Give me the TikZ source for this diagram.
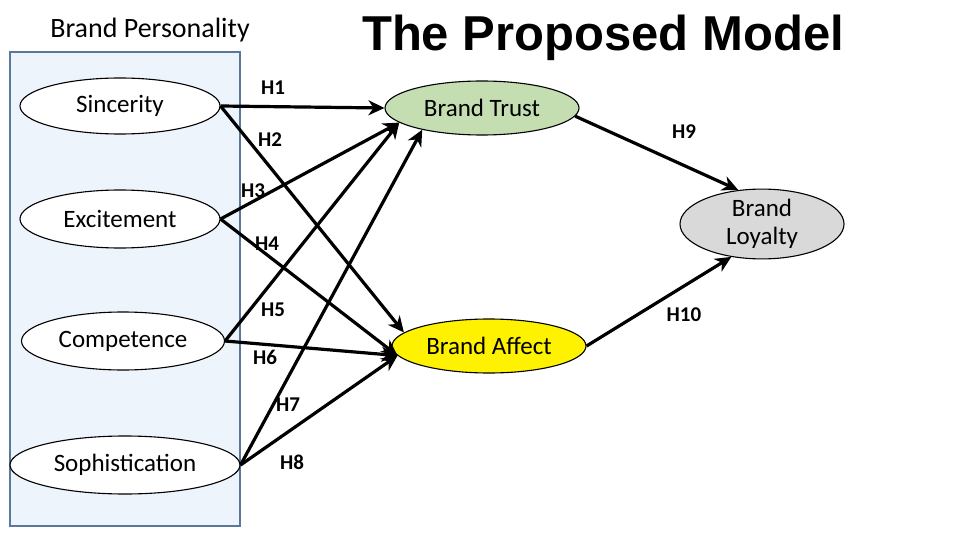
\documentclass[tikz,border=0pt]{standalone}
\usepackage{fontspec}
\setmainfont{Carlito}
\newfontfamily\titlefont{Liberation Sans}
\usetikzlibrary{positioning,arrows.meta,shapes.geometric}
\definecolor{boxfill}{RGB}{238,244,251}
\definecolor{boxline}{RGB}{90,120,155}
\definecolor{trustfill}{RGB}{196,222,178}
\definecolor{loyalfill}{RGB}{217,217,217}

\begin{document}
\begin{tikzpicture}[
    x=1pt, y=-1pt,
    trait/.style={draw, ellipse, fill=white, inner sep=0pt, line width=1.1pt, font=\fontsize{25}{27}\selectfont},
    construct/.style={draw, ellipse, inner sep=0pt, line width=1.1pt, minimum width=194pt, minimum height=54pt, font=\fontsize{25}{28}\selectfont, align=center},
    hlabel/.style={font=\bfseries\fontsize{21}{23}\selectfont},
    hpath/.style={-{Stealth[length=16pt, width=15pt, inset=5pt]}, line width=3.2pt}
]
\useasboundingbox (0,0) rectangle (960,540);

% Brand personality block
\fill[boxfill, draw=boxline, line width=1.5pt] (10,52) rectangle (240,526);
\node[font=\fontsize{28}{30}\selectfont] (bp) at (150,30) {Brand Personality};
\node[font=\titlefont\bfseries\fontsize{49}{52}\selectfont] (title) at (603,38) {The Proposed Model};

% Personality dimensions
\node[trait, minimum width=200pt, minimum height=56pt] (sinc) at (120,106) {Sincerity};
\node[trait, minimum width=200pt, minimum height=58pt] (exci) at (120,219) {Excitement};
\node[trait, minimum width=203pt, minimum height=58pt] (comp) at (123,341) {Competence};
\node[trait, minimum width=230pt, minimum height=58pt] (soph) at (125,465) {Sophistication};

% Outcomes
\node[construct, fill=trustfill] (trust) at (482,108) {Brand Trust};
\node[construct, fill=yellow] (affect) at (489,346) {Brand Affect};
\node[construct, fill=loyalfill, minimum width=164pt, minimum height=66pt] (loyal) at (762,224) {Brand\\Loyalty};

% Hypothesised paths
\draw[hpath] (sinc.east) -- (trust.west);
\draw[hpath] (sinc.east) -- (affect.171);
\draw[hpath] (exci.east) -- (trust.190);
\draw[hpath] (exci.east) -- (affect.186);
\draw[hpath] (comp.east) -- (trust.190);
\draw[hpath] (comp.east) -- (affect.186);
\draw[hpath] (soph.east) -- (trust.200);
\draw[hpath] (soph.east) -- (affect.186);
\draw[hpath] (trust.355) -- (loyal.125);
\draw[hpath] (affect.east) -- (loyal.227);

% Path labels
\foreach \name/\x/\y/\txt in {h1/273/88/H1, h2/270/140/H2, h3/253/191/H3, h4/267/244/H4,
    h5/273/310/H5, h6/265/357/H6, h7/288/405/H7, h8/292/462/H8, h9/684/132/H9, h10/684/315/H10} {
    \node[hlabel] (\name) at (\x,\y) {\txt};
}
\end{tikzpicture}
\end{document}
